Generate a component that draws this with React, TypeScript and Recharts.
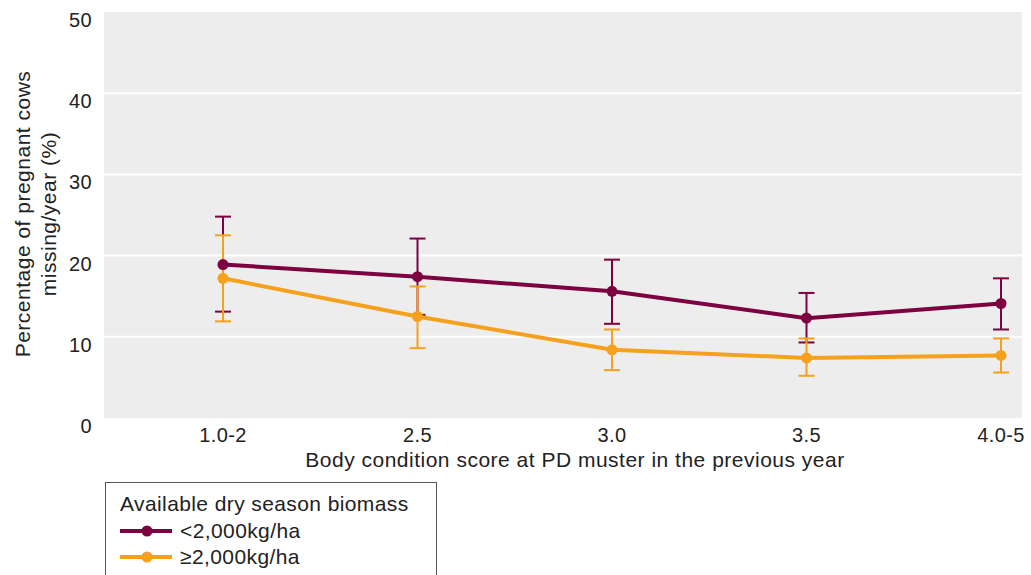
import { LineChart, Line, XAxis, YAxis, CartesianGrid, ErrorBar } from 'recharts';

const categories = ['1.0-2', '2.5', '3.0', '3.5', '4.0-5'];

// <2,000kg/ha
const lowBiomass = [18.9, 17.4, 15.6, 12.3, 14.1];
const lowBiomassUpper = [24.8, 22.1, 19.5, 15.4, 17.2];
const lowBiomassLower = [13.1, 12.7, 11.6, 9.3, 10.9];

// ≥2,000kg/ha
const highBiomass = [17.2, 12.5, 8.4, 7.4, 7.7];
const highBiomassUpper = [22.5, 16.2, 10.9, 9.8, 9.8];
const highBiomassLower = [11.9, 8.6, 5.9, 5.2, 5.6];

const yTicks = [0, 10, 20, 30, 40, 50];

const MAROON = '#7d0040';
const ORANGE = '#f6a11d';
const FONT = '"Liberation Sans", Arial, sans-serif';
const TEXT = '#222';

const data = categories.map((c, i) => ({
  cat: c,
  low: lowBiomass[i],
  lowErr: [lowBiomass[i] - lowBiomassLower[i], lowBiomassUpper[i] - lowBiomass[i]],
  high: highBiomass[i],
  highErr: [highBiomass[i] - highBiomassLower[i], highBiomassUpper[i] - highBiomass[i]],
}));

const XTick = (props: any) => {
  const { x, y, payload } = props;
  return (
    <text x={x} y={y + 16} textAnchor="middle" fontSize={20} letterSpacing={0.4} fill={TEXT} fontFamily={FONT}>
      {payload.value}
    </text>
  );
};

const YTick = (props: any) => {
  const { x, y, payload } = props;
  return (
    <text x={x} y={y + 15} textAnchor="end" fontSize={20} letterSpacing={0.4} fill={TEXT} fontFamily={FONT}>
      {payload.value}
    </text>
  );
};

const YTitle = () => (
  <g fontSize={21} letterSpacing={0.5} fill={TEXT} fontFamily={FONT}>
    <text transform="translate(29.5,214) rotate(-90)" textAnchor="middle">Percentage of pregnant cows</text>
    <text transform="translate(55.5,214) rotate(-90)" textAnchor="middle">missing/year (%)</text>
  </g>
);

const XTitle = () => (
  <text x={575} y={467} textAnchor="middle" fontSize={21} letterSpacing={0.5} fill={TEXT} fontFamily={FONT}>
    Body condition score at PD muster in the previous year
  </text>
);

const LegendItem = ({ color, label }: { color: string; label: string }) => (
  <div style={{ display: 'flex', alignItems: 'center', height: 26 }}>
    <svg width={56} height={14} style={{ marginRight: 4 }}>
      <line x1={0} y1={7} x2={52} y2={7} stroke={color} strokeWidth={4} />
      <circle cx={27} cy={7} r={5.5} fill={color} />
    </svg>
    <span>{label}</span>
  </div>
);

const App = () => {
  return (
    <div style={{ position: 'absolute', left: 0, top: 0, width: 1031, height: 575, background: '#fff', overflow: 'hidden' }}>
      <LineChart width={1031} height={575} data={data} margin={{ top: 12, right: 9, left: 0, bottom: 97 }}>
        <CartesianGrid vertical={false} fill="#ededed" stroke="#ffffff" strokeWidth={2} horizontalValues={[10, 20, 30, 40]} />
        <XAxis
          dataKey="cat"
          height={60}
          axisLine={false}
          tickLine={false}
          tick={<XTick />}
          padding={{ left: 119, right: 21 }}
          label={<XTitle />}
        />
        <YAxis
          width={104}
          domain={[0, 50]}
          ticks={yTicks}
          axisLine={false}
          tickLine={false}
          tickSize={0}
          tickMargin={12}
          tick={<YTick />}
          label={<YTitle />}
        />
        <Line type="linear" dataKey="low" stroke={MAROON} strokeWidth={4} dot={{ r: 5.5, fill: MAROON, stroke: MAROON, strokeWidth: 0 }} isAnimationActive={false}>
          <ErrorBar dataKey="lowErr" width={8} strokeWidth={2} stroke={MAROON} direction="y" isAnimationActive={false} />
        </Line>
        <Line type="linear" dataKey="high" stroke={ORANGE} strokeWidth={4} dot={{ r: 5.5, fill: ORANGE, stroke: ORANGE, strokeWidth: 0 }} isAnimationActive={false}>
          <ErrorBar dataKey="highErr" width={8} strokeWidth={2} stroke={ORANGE} direction="y" isAnimationActive={false} />
        </Line>
      </LineChart>
      <div
        style={{
          position: 'absolute',
          left: 105,
          top: 482,
          width: 332,
          height: 120,
          border: '1px solid #555',
          fontFamily: FONT,
          fontSize: 21,
          letterSpacing: 0.4,
          color: TEXT,
          padding: '7px 14px',
          boxSizing: 'border-box',
        }}
      >
        <div style={{ height: 28, lineHeight: '28px' }}>Available dry season biomass</div>
        <LegendItem color={MAROON} label="<2,000kg/ha" />
        <LegendItem color={ORANGE} label="≥2,000kg/ha" />
      </div>
    </div>
  );
};

export default App;
